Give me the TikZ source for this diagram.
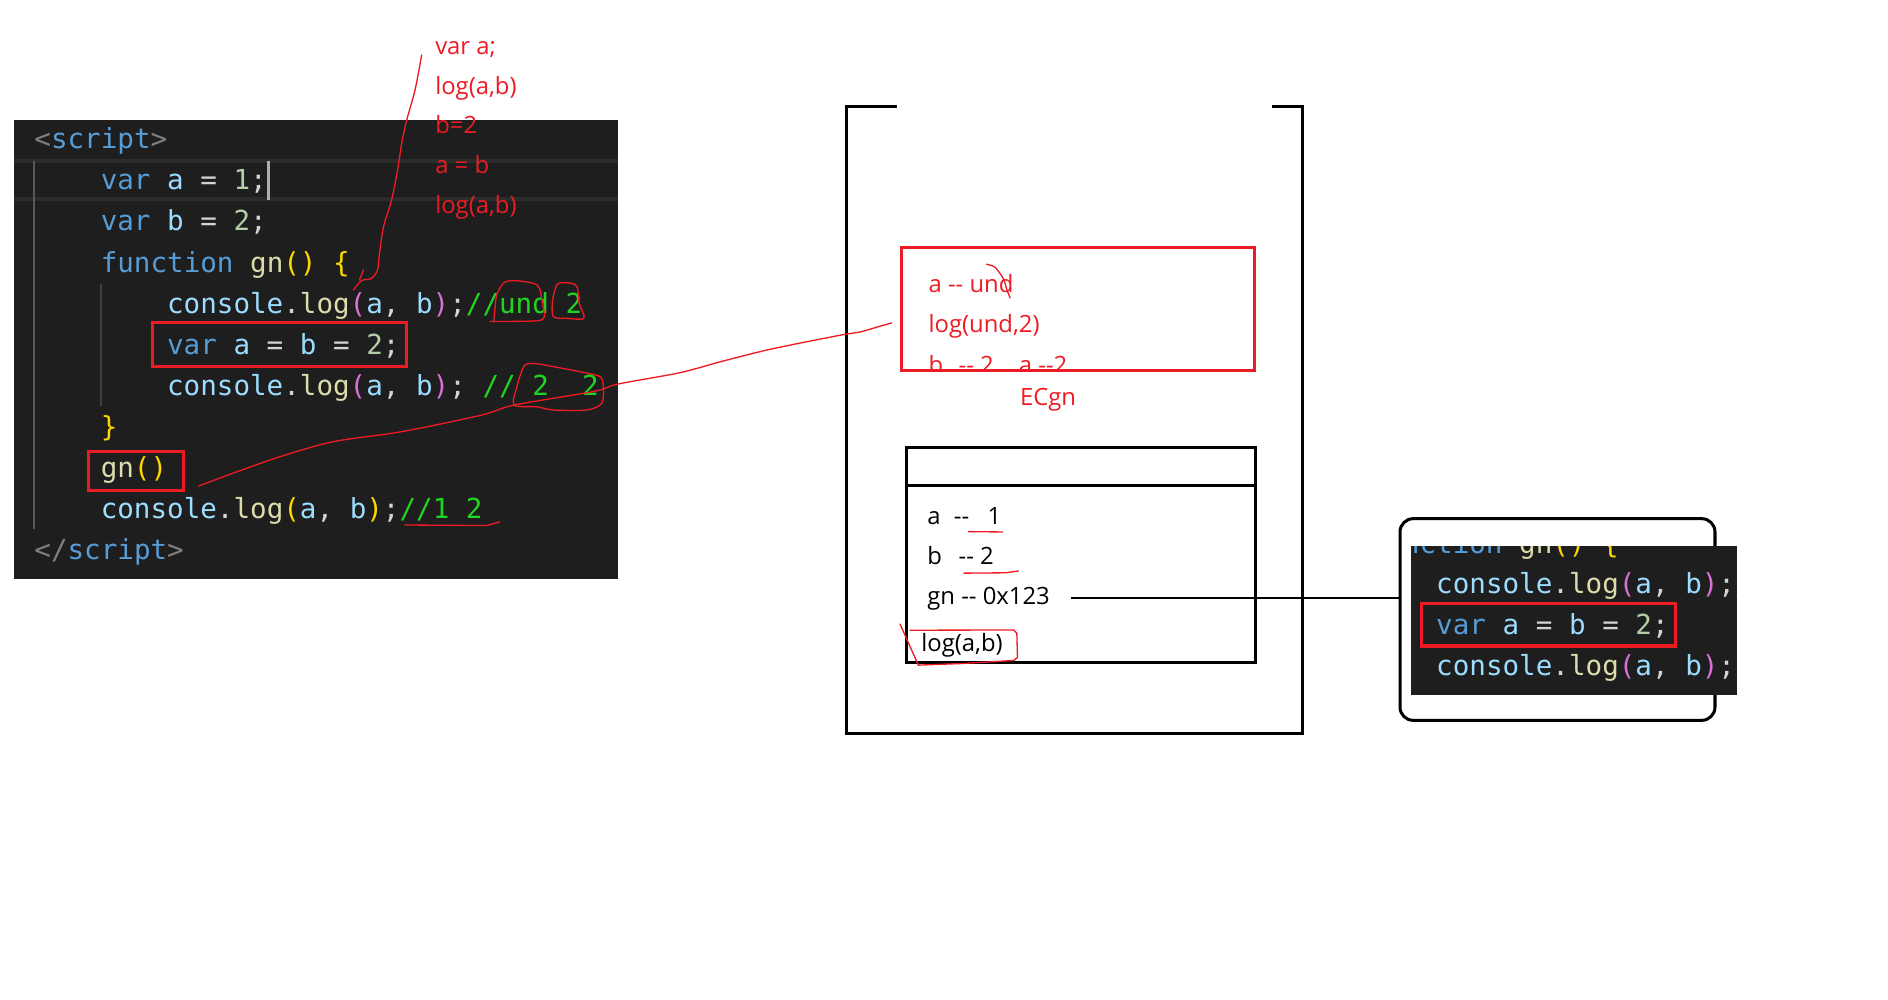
\documentclass[tikz,border=0pt]{standalone}
\usepackage{fontspec}
\newfontfamily\codefont{DejaVu Sans Mono}
\newfontfamily\handfont{Open Sans}
\definecolor{panelbg}{HTML}{1E1E1E}
\definecolor{kwblue}{HTML}{569CD6}
\definecolor{varblue}{HTML}{9CDCFE}
\definecolor{fnyel}{HTML}{DCDCAA}
\definecolor{numgrn}{HTML}{B5CEA8}
\definecolor{punct}{HTML}{D4D4D4}
\definecolor{brkyel}{HTML}{FFD700}
\definecolor{brkpur}{HTML}{DA70D6}
\definecolor{cmtgrn}{HTML}{22D422}
\definecolor{taggray}{HTML}{808080}
\definecolor{penred}{HTML}{ED1C24}
\definecolor{hlline}{HTML}{2C2C2C}
\definecolor{guidea}{HTML}{585858}
\definecolor{guideb}{HTML}{404040}
\definecolor{cursorc}{HTML}{AEAFAD}
\newcommand\kwc[1]{\textcolor{kwblue}{#1}}
\newcommand\vrc[1]{\textcolor{varblue}{#1}}
\newcommand\fnc[1]{\textcolor{fnyel}{#1}}
\newcommand\nmc[1]{\textcolor{numgrn}{#1}}
\newcommand\ybc[1]{\textcolor{brkyel}{#1}}
\newcommand\pbc[1]{\textcolor{brkpur}{#1}}
\newcommand\cmc[1]{\textcolor{cmtgrn}{#1}}
\newcommand\tgc[1]{\textcolor{taggray}{#1}}
\tikzset{
  code/.style={anchor=base west, inner sep=0pt, font=\codefont\fontsize{22.9}{27}\selectfont, text=punct},
  hand/.style={anchor=base west, inner sep=0pt, font=\handfont\fontsize{19.8}{24}\selectfont, text=penred},
  memtext/.style={hand, text=black},
  pen/.style={draw=penred, line width=1.1pt, line join=round, line cap=round},
  redbox/.style={draw=penred, line width=2.5pt},
  blackframe/.style={draw=black, line width=2.5pt},
}
\begin{document}
\begin{tikzpicture}[x=1pt,y=-1pt]
\useasboundingbox[fill=white] (0,0) rectangle (1568,830);
% ---------- code panel ----------
\fill[panelbg] (12,100) rectangle (513,481);
\draw[hlline, line width=3pt] (12,133.5) -- (513,133.5);
\draw[hlline, line width=3pt] (12,165.5) -- (513,165.5);
\draw[guidea, line width=1.6pt] (28.6,133.5) -- (28.6,439);
\draw[guideb, line width=1.6pt] (84,236) -- (84,337.5);
\fill[cursorc] (222,133.5) rectangle (224.6,166);
\node[code] (l0) at (28.4,123.6) {\tgc{<}\kwc{script}\tgc{>}};
\node[code] (l1) at (83.5,157.7) {\kwc{var} \vrc{a} = \nmc{1};};
\node[code] (l2) at (83.5,191.8) {\kwc{var} \vrc{b} = \nmc{2};};
\node[code] (l3) at (83.5,225.9) {\kwc{function} \fnc{gn}\ybc{()} \ybc{\{}};
\node[code] (l4) at (138.6,260) {\vrc{console}.\fnc{log}\pbc{(}\vrc{a}, \vrc{b}\pbc{)};\cmc{//und 2}};
\node[code] (l5) at (138.6,294.1) {\kwc{var} \vrc{a} = \vrc{b} = \nmc{2};};
\node[code] (l6) at (138.6,328.2) {\vrc{console}.\fnc{log}\pbc{(}\vrc{a}, \vrc{b}\pbc{)}; \cmc{//~2~~2}};
\node[code] (l7) at (83.5,362.3) {\ybc{\}}};
\node[code] (l8) at (83.5,396.4) {\fnc{gn}\ybc{()}};
\node[code] (l9) at (83.5,430.5) {\vrc{console}.\fnc{log}\ybc{(}\vrc{a}, \vrc{b}\ybc{)};\cmc{//1 2}};
\node[code] (l10) at (28.4,464.6) {\tgc{</}\kwc{script}\tgc{>}};
\node[redbox, inner sep=0pt, minimum width=210.7pt, minimum height=36pt] (assignbox) at (232.15,286) {};
\node[redbox, inner sep=0pt, minimum width=79pt, minimum height=32pt] (gnbox) at (112.9,391) {};
% ---------- stack ----------
\draw[blackframe] (744.7,88.5) -- (703.2,88.5) -- (703.2,609.5) -- (1081.9,609.5) -- (1081.9,88.5) -- (1056.7,88.5);
\node[hand] (ec1) at (771,243) {a -{}- und};
\node[hand] (ec2) at (771,276.5) {log(und,2)};
\begin{scope}
  \clip (748.9,200) rectangle (1041.5,307.3);
  \node[hand] (ec3a) at (771,310) {b};
  \node[hand] (ec3b) at (796,310) {-{}- 2};
  \node[hand] (ec3c) at (846,310) {a -{}-2};
\end{scope}
\node[redbox, inner sep=0pt, minimum width=292.6pt, minimum height=102.7pt] (ecbox) at (895.2,256.5) {};
\node[hand] (eclabel) at (847,337) {ECgn};
\node[blackframe, inner sep=0pt, minimum width=289.8pt, minimum height=178pt] (globalbox) at (897.4,461) {};
\draw[blackframe] (globalbox.west |- 0,403.5) -- (globalbox.east |- 0,403.5);
\node[memtext] (ga1) at (770,436) {a};
\node[memtext] (ga2) at (792,436) {-{}-};
\node[memtext] (ga3) at (820,436) {1};
\node[memtext] (gb1) at (770,469) {b};
\node[memtext] (gb2) at (796,469) {-{}- 2};
\node[memtext] (gnrow) at (770,502.3) {gn -{}- 0x123};
\node[memtext] (glog) at (765,540.8) {log(a,b)};
% ---------- function object ----------
\node[draw=black, line width=2.5pt, rounded corners=11pt, inner sep=0pt, minimum width=261.6pt, minimum height=167.5pt] (fnbox) at (1293.5,514.5) {};
\fill[panelbg] (1171.6,453.5) rectangle (1442.3,577.2);
\begin{scope}
  \clip (1171.6,453.5) rectangle (1442.3,577.2);
  \node[code] (s0) at (1137.4,459.3) {\kwc{function} \fnc{gn}\ybc{()} \ybc{\{}};
  \node[code] (s1) at (1192.6,493.3) {\vrc{console}.\fnc{log}\pbc{(}\vrc{a}, \vrc{b}\pbc{)};\cmc{//und 2}};
  \node[code] (s2) at (1192.6,527.2) {\kwc{var} \vrc{a} = \vrc{b} = \nmc{2};};
  \node[code] (s3) at (1192.6,561.1) {\vrc{console}.\fnc{log}\pbc{(}\vrc{a}, \vrc{b}\pbc{)}; \cmc{//~2~~2}};
\end{scope}
\node[redbox, inner sep=0pt, minimum width=211.5pt, minimum height=35pt] (snipbox) at (1285.95,519) {};
\coordinate (gnptr) at (889.5,496.8);
\draw[line width=2pt] (gnptr) -- (gnptr -| fnbox.west);
% ---------- red pen annotations ----------
\node[hand] (n1) at (361.3,45.4) {var a;};
\node[hand] (n2) at (361.3,78.3) {log(a,b)};
\node[hand] (n3) at (361.3,111.2) {b=2};
\node[hand] (n4) at (361.3,144.1) {a = b};
\node[hand] (n5) at (361.3,177) {log(a,b)};
\draw[pen] plot[smooth] coordinates {(350.2,45.7) (344.7,74.7) (337.8,99.7) (333.6,119) (330.2,141.2) (325.2,166) (318.5,188.3) (315.2,210.4) (313.5,224.3) (308.5,231.2) (300.2,233.1) (293.5,240.9)};
\draw[pen] (301.9,224.3) -- (298.5,232.6);
\draw[pen] plot[smooth] coordinates {(407,267) (444.6,266.5) (452,263.4) (450.5,251.8) (448,239.4) (443,235.3) (426.4,233) (418,235.3) (412.5,245) (411.2,255) (410,267)};
\draw[pen] plot[smooth] coordinates {(470.6,264.3) (485,264.3) (481,251.8) (479.5,238.6) (474.8,235.3) (466.5,234.8) (462.4,236.7) (459,249) (459.5,263) (470.6,264.3)};
\draw[pen] plot[smooth cycle] coordinates {(427,336.4) (429.3,321.1) (435,304.5) (442.9,301.8) (459.5,304.5) (481.7,308.7) (498.3,312.8) (501,321.1) (499.7,335) (487.2,340.5) (459.5,340.5) (445.6,337.8)};
\draw[pen] plot[smooth] coordinates {(165,403.6) (193.5,393) (233.5,379) (276.8,366.8) (333.5,358.5) (400,344.7) (427,336.4) (493.5,325) (513,319) (564.7,309.5) (600,300) (640,290) (697.7,278.4) (714.3,275.7) (730.9,270.9) (740.6,268.2)};
\draw[pen] (336,436) -- (404,436.5) -- (415,433.5);
\draw[pen] plot[smooth] coordinates {(819.4,219.5) (826.4,222) (833.3,231.5) (836,240) (838.9,247.5)};
\draw[pen] (804.2,441.5) -- (832.7,441.8);
\draw[pen] (800.6,476) -- (835,475.7) -- (845.8,474.2);
\draw[pen] (755.8,523.4) -- (842,523.2) -- (844.5,526) -- (845,546) -- (842,548.5) -- (800,551) -- (762.7,552.4);
\draw[pen] (747.5,518.3) -- (762.7,552.4);
\end{tikzpicture}
\end{document}
